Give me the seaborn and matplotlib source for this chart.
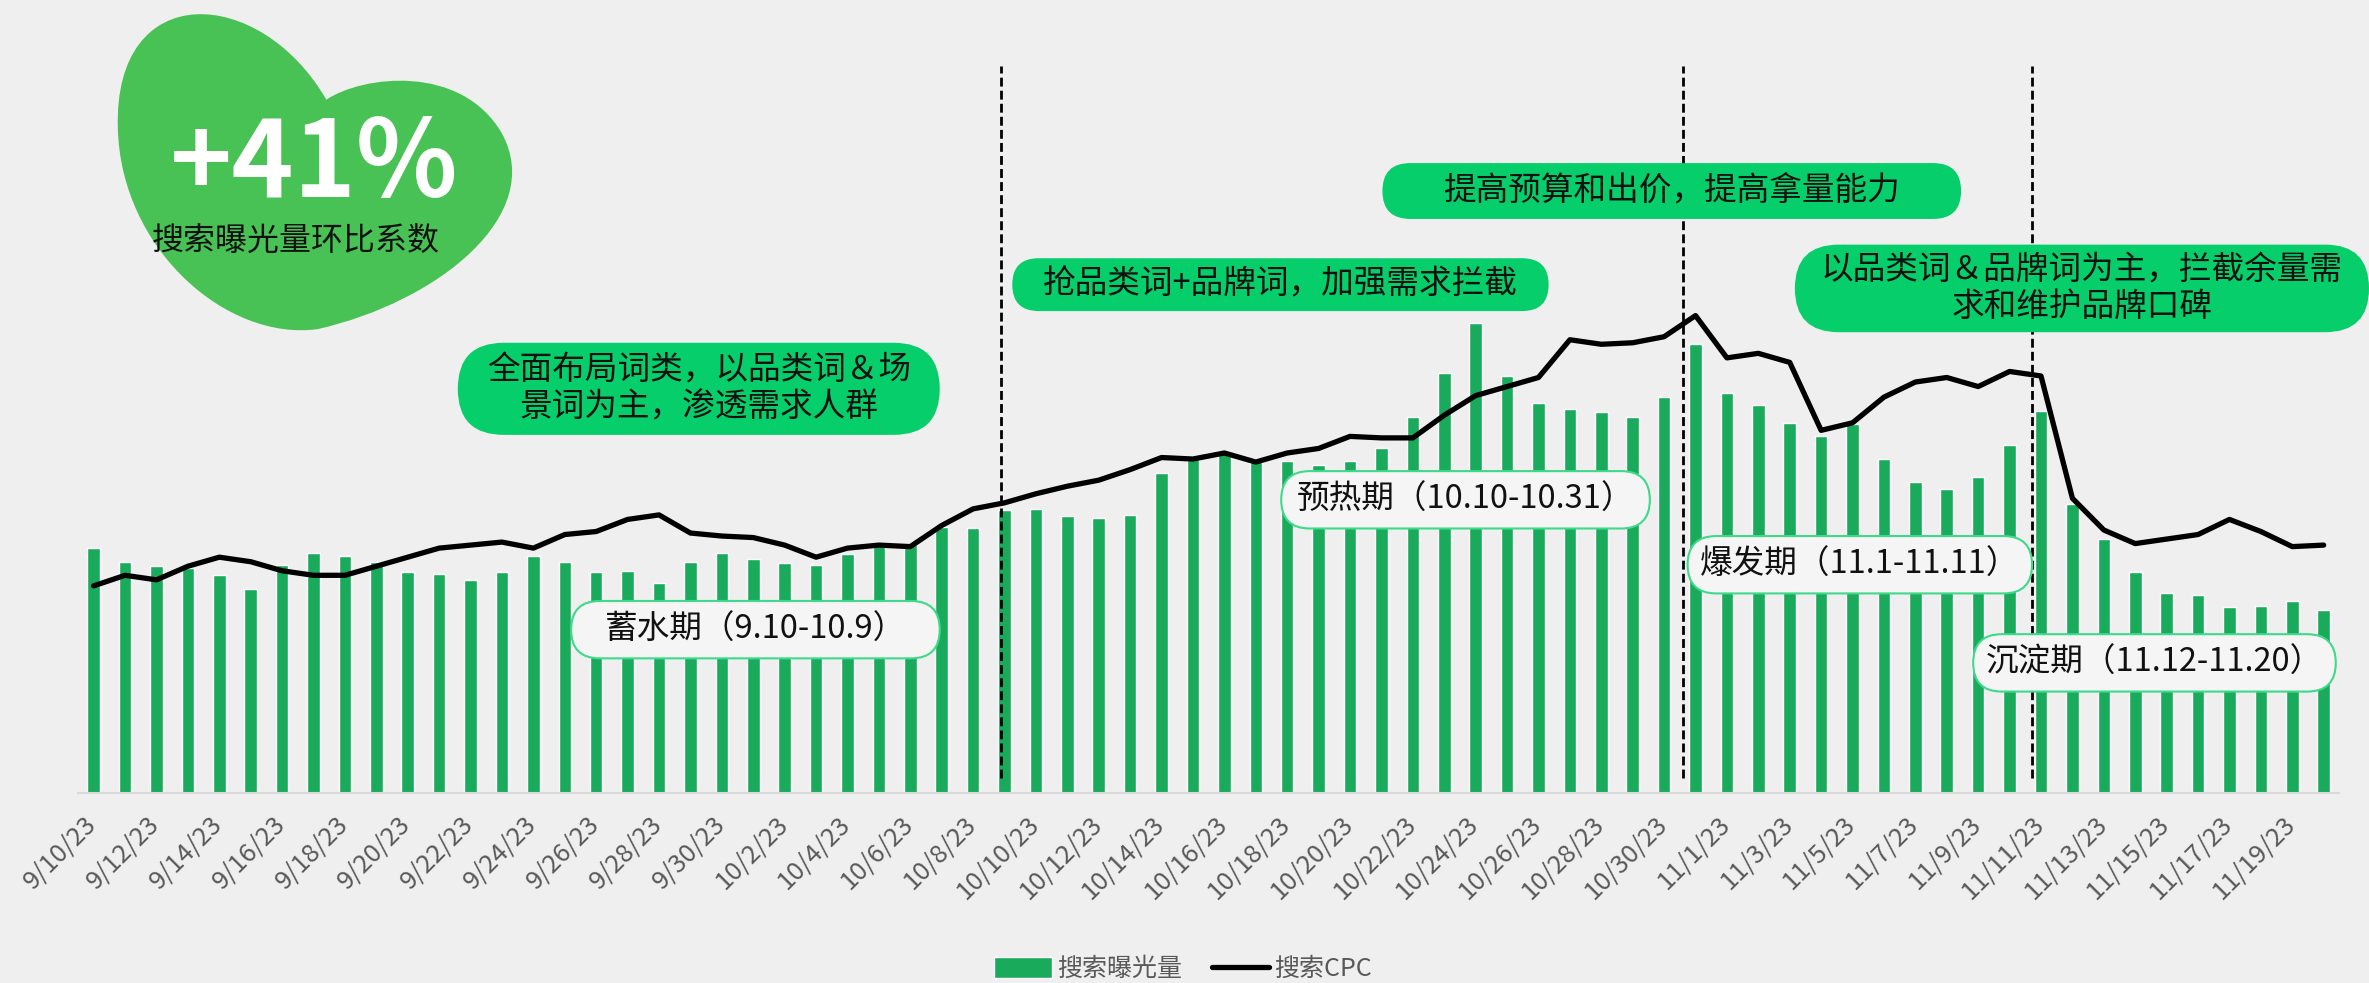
import matplotlib
matplotlib.use("Agg")
import matplotlib.pyplot as plt
from matplotlib.patches import FancyBboxPatch, PathPatch
from matplotlib.path import Path
from matplotlib.transforms import ScaledTranslation
import seaborn as sns
import pandas as pd
import numpy as np

# data (no y axis, relative units)
dates = [f"{d.month}/{d.day}/{d:%y}" for d in pd.date_range("2023-09-10", "2023-11-20")]

exposure = [162, 153, 150, 149, 144, 135, 151, 159, 157, 153,
            146, 145, 141, 146, 157, 153, 146, 147, 139, 153,
            159, 155, 152, 151, 158, 165, 165, 176, 175, 187,
            188, 183, 182, 184, 212, 221, 225, 221, 220, 217,
            220, 228, 249, 278, 311, 276, 258, 254, 252, 249,
            262, 297, 265, 257, 245, 236, 244, 221, 206, 201,
            209, 230, 253, 191, 168, 146, 132, 131, 123, 124,
            127, 121]

cpc = [137, 144, 141, 150, 156, 153, 147, 144, 144, 150,
       156, 162, 164, 166, 162, 171, 173, 181, 184, 172,
       170, 169, 164, 156, 162, 164, 163, 177, 188, 192,
       198, 203, 207, 214, 222, 221, 225, 219, 225, 228,
       236, 235, 235, 250, 263, 269, 275, 300, 297, 298,
       302, 316, 288, 291, 285, 240, 245, 262, 272, 275,
       269, 279, 276, 195, 174, 165, 168, 171, 181, 173,
       163, 164]

phase_breaks = [28.9, 50.6, 61.7]

phase_names = ["蓄水期（9.10-10.9）", "预热期（10.10-10.31）",
               "爆发期（11.1-11.11）", "沉淀期（11.12-11.20）"]
strategies = ["全面布局词类，以品类词＆场\n景词为主，渗透需求人群",
              "抢品类词+品牌词，加强需求拦截",
              "提高预算和出价，提高拿量能力",
              "以品类词＆品牌词为主，拦截余量需\n求和维护品牌口碑"]

BG = "#efefef"
BAR = "#19ab5b"
BOX_GREEN = "#06ce6a"

sns.set_style("white")
plt.rcParams['font.family'] = ['Noto Sans CJK SC', 'DejaVu Sans']

df = pd.DataFrame({"date": dates, "pos": np.arange(len(dates)),
                   "exposure": exposure, "cpc": cpc})

W, H = 1568, 651   # layout grid (reference preview pixels)
fig = plt.figure(figsize=(23.69, 9.83), dpi=100, facecolor=BG)
SX, SY = 23.69 / W, 9.83 / H


def P(x, y):
    return (x * SX, (H - y) * SY)


ax = fig.add_axes([51.6 / W, (H - 525) / H, (1548.4 - 51.6) / W, 525 / H])
ax.set_facecolor(BG)

sns.barplot(data=df, x="date", y="exposure", color=BAR, width=0.4,
            saturation=1, label="搜索曝光量", ax=ax, zorder=2)
sns.lineplot(data=df, x="pos", y="cpc", color="black", lw=3.8,
             label="搜索CPC", ax=ax, zorder=3)
ax.lines[-1].set_solid_joinstyle("round")

for xb in phase_breaks:
    ax.vlines(xb, 10, 481, colors="black", linestyles=(0, (3.2, 1.5)), lw=2, zorder=4)

ax.set_xlim(-0.5, len(dates) - 0.5)
ax.set_ylim(0, 525)
ax.set_xlabel("")
ax.set_ylabel("")
ax.set_yticks([])
ax.set_xticks(range(0, len(dates), 2))
ax.set_xticklabels(dates[::2], rotation=45, ha="right", rotation_mode="anchor",
                   fontsize=18.5, color="#595959")
ax.tick_params(axis="x", length=0, pad=13)
shift = ScaledTranslation(-0.1, 0, fig.dpi_scale_trans)
for lab in ax.get_xticklabels():
    lab.set_transform(lab.get_transform() + shift)
for s in ["top", "right", "left"]:
    ax.spines[s].set_visible(False)
ax.spines["bottom"].set_color("#d9d9d9")
ax.spines["bottom"].set_linewidth(1.5)

handles, labels = ax.get_legend_handles_labels()
if ax.get_legend() is not None:
    ax.get_legend().remove()
order = [labels.index("搜索曝光量"), labels.index("搜索CPC")]
fig.legend([handles[i] for i in order], [labels[i] for i in order],
           loc="center", bbox_to_anchor=(0.4994, 0.014),
           ncol=2, frameon=False, fontsize=18, labelcolor="#595959",
           handlelength=2.3, handleheight=0.9, columnspacing=1.2, handletextpad=0.2)

# heart badge
verts = [P(216, 66),
         P(240, 50), P(305, 42), P(332, 88),
         P(362, 142), P(290, 200), P(210, 218),
         P(150, 226), P(80, 165), P(78, 85),
         P(75, -15), P(172, -10), P(216, 66),
         P(216, 66)]
codes = [Path.MOVETO] + [Path.CURVE4] * 12 + [Path.CLOSEPOLY]
fig.patches.append(PathPatch(Path(verts, codes), facecolor="#48c155", edgecolor="none",
                             transform=fig.dpi_scale_trans, figure=fig))
fig.text(*P(208, 110), "+41%", transform=fig.dpi_scale_trans, ha="center", va="center",
         fontsize=76, fontweight="bold", color="white")
fig.text(*P(196, 160), "搜索曝光量环比系数", transform=fig.dpi_scale_trans, ha="center",
         va="center", fontsize=23, color="#111111")


def pill(x0, y0, x1, y1, text, face, edge, fs):
    h = (y1 - y0) * SY
    bx, by = P(x0, y1)
    fig.patches.append(FancyBboxPatch((bx, by), (x1 - x0) * SX, h,
                                      boxstyle=f"round,pad=0,rounding_size={h / 2}",
                                      facecolor=face, edgecolor=edge, lw=1.5,
                                      transform=fig.dpi_scale_trans, figure=fig))
    fig.text(*P((x0 + x1) / 2, (y0 + y1) / 2), text, transform=fig.dpi_scale_trans,
             ha="center", va="center", fontsize=fs, color="#111111", linespacing=1.2)


green_boxes = [(303, 227, 622, 288), (670, 171, 1025, 206),
               (915, 108, 1298, 145), (1188, 162, 1568, 220)]
white_boxes = [(378, 398, 622, 436), (848, 312, 1092, 350),
               (1117, 355, 1345, 393), (1306, 420, 1546, 458)]

for b, t in zip(green_boxes, strategies):
    pill(*b, t, BOX_GREEN, "none", 23.5)
for b, t in zip(white_boxes, phase_names):
    pill(*b, t, "#f5f5f5", "#3fd98a", 23.5)

fig.savefig("out.png", dpi=100, facecolor=BG)
